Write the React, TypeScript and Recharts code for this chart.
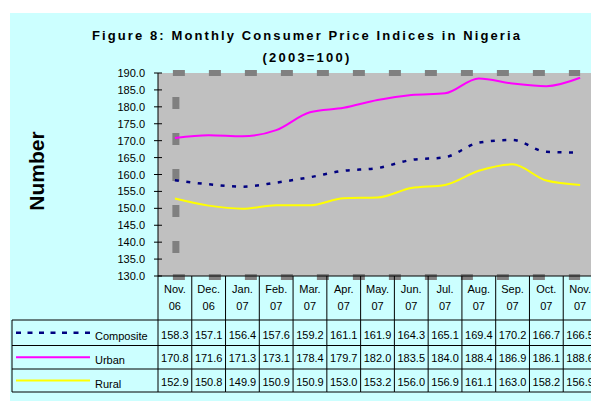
import React from "react";
import { LineChart, Line, XAxis, YAxis, CartesianGrid, ReferenceArea } from "recharts";

const months = [
  "Nov. 06", "Dec. 06", "Jan. 07", "Feb. 07", "Mar. 07", "Apr. 07", "May. 07",
  "Jun. 07", "Jul. 07", "Aug. 07", "Sep. 07", "Oct. 07", "Nov. 07",
];
const composite = [158.3, 157.1, 156.4, 157.6, 159.2, 161.1, 161.9, 164.3, 165.1, 169.4, 170.2, 166.7, 166.5];
const urban = [170.8, 171.6, 171.3, 173.1, 178.4, 179.7, 182.0, 183.5, 184.0, 188.4, 186.9, 186.1, 188.6];
const rural = [152.9, 150.8, 149.9, 150.9, 150.9, 153.0, 153.2, 156.0, 156.9, 161.1, 163.0, 158.2, 156.9];
const yTicks = [130, 135, 140, 145, 150, 155, 160, 165, 170, 175, 180, 185, 190];

const series = [
  { key: "composite", name: "Composite", values: composite, color: "#000080", width: 2.5, dash: "4 7.5" },
  { key: "urban", name: "Urban", values: urban, color: "#FF00FF", width: 2, dash: undefined },
  { key: "rural", name: "Rural", values: rural, color: "#FFFF00", width: 2, dash: undefined },
];

const data = months.map((m, i) => ({
  month: m,
  composite: composite[i],
  urban: urban[i],
  rural: rural[i],
}));

const FONT = '"Liberation Sans", Arial, Helvetica, sans-serif';
const CHART_W = 600;
const CHART_H = 404;
const PLOT_LEFT = 158;
const PLOT_TOP = 73;
const PLOT_BOTTOM = 276;
const MARGIN_R = 3;
const STEP = (CHART_W - PLOT_LEFT - MARGIN_R) / months.length;
const ROW_Y = [320, 345.5, 369, 392];
const VALUE_BASE = [338.5, 362, 386];
const LEGEND_LEFT = 12;

function YTick(props: any) {
  const { y, payload } = props;
  return (
    <g>
      <line x1={PLOT_LEFT - 4} x2={PLOT_LEFT + 4} y1={y} y2={y} stroke="#000" strokeWidth={1} />
      <text x={145} y={y} dy={4} textAnchor="end" fontFamily={FONT} fontSize={11} fill="#000">
        {Number(payload.value).toFixed(1)}
      </text>
    </g>
  );
}

function TableTick(props: any) {
  const { x, payload } = props;
  const i: number = payload.index ?? props.index;
  const [mon, yr] = String(payload.value).split(" ");
  const l = x - STEP / 2;
  const r = x + STEP / 2;
  return (
    <g fontFamily={FONT} fontSize={11}>
      <text x={x} y={292.5} textAnchor="middle" fill="#000">{mon}</text>
      <text x={x} y={310} textAnchor="middle" fill="#000">{yr}</text>
      {series.map((s, k) => (
        <text key={s.key} x={x} y={VALUE_BASE[k]} textAnchor="middle" fill="#000">
          {s.values[i].toFixed(1)}
        </text>
      ))}
      <line x1={l} x2={l} y1={PLOT_BOTTOM} y2={ROW_Y[3]} stroke="#000" />
      {i === months.length - 1 && <line x1={r} x2={r} y1={PLOT_BOTTOM} y2={ROW_Y[3]} stroke="#000" />}
      {ROW_Y.map((ry) => (
        <line key={ry} x1={l} x2={r} y1={ry} y2={ry} stroke="#000" />
      ))}
      {i === 0 && (
        <g>
          <line x1={LEGEND_LEFT} x2={LEGEND_LEFT} y1={ROW_Y[0]} y2={ROW_Y[3]} stroke="#000" />
          {ROW_Y.map((ry) => (
            <line key={"lg" + ry} x1={LEGEND_LEFT} x2={l} y1={ry} y2={ry} stroke="#000" />
          ))}
          {series.map((s, k) => {
            const cy = (ROW_Y[k] + ROW_Y[k + 1]) / 2;
            return (
              <g key={"lk" + s.key}>
                <line x1={16} x2={90} y1={cy} y2={cy} stroke={s.color} strokeWidth={s.width} strokeDasharray={s.dash ? "5 6.5" : undefined} />
                <text x={95} y={VALUE_BASE[k] + 1.5} fill="#000">{s.name}</text>
              </g>
            );
          })}
        </g>
      )}
    </g>
  );
}

function PlotBorder(props: any) {
  const { x, y, width, height } = props;
  const dash = { stroke: "#808080", strokeWidth: 6, strokeDasharray: "12 24" };
  return (
    <g>
      <line x1={x - 2} x2={x + width} y1={y} y2={y} {...dash} />
      <line x1={x - 2} x2={x + width} y1={y + height + 1} y2={y + height + 1} {...dash} />
      <line x1={x + 1} x2={x + 1} y1={y} y2={y + height} {...dash} strokeWidth={7} strokeDashoffset={12} />
    </g>
  );
}

export default function App() {
  return (
    <div style={{ position: "absolute", left: 0, top: 0, width: 591, height: 404, overflow: "hidden", background: "#fff" }}>
      <div style={{ position: "absolute", left: 10, top: 13, width: 581, height: 388, background: "#CCFFFF" }} />
      <div style={{ position: "absolute", left: 0, top: 0 }}>
        <LineChart
          width={CHART_W}
          height={CHART_H}
          data={data}
          margin={{ top: PLOT_TOP, right: MARGIN_R, left: 0, bottom: 0 }}
        >
          <CartesianGrid fill="#C0C0C0" horizontal={false} vertical={false} />
          <ReferenceArea y1={130} y2={190} fill="none" shape={<PlotBorder />} />
          {series.map((s) => (
            <Line
              key={s.key}
              type="monotone"
              dataKey={s.key}
              name={s.name}
              stroke={s.color}
              strokeWidth={s.width}
              strokeDasharray={s.dash}
              dot={false}
              isAnimationActive={false}
            />
          ))}
          <XAxis
            dataKey="month"
            interval={0}
            height={CHART_H - PLOT_BOTTOM}
            tickLine={false}
            tickSize={0}
            axisLine={{ stroke: "#000" }}
            padding={{ left: STEP / 2, right: STEP / 2 }}
            tick={<TableTick />}
          />
          <YAxis
            width={PLOT_LEFT}
            domain={[130, 190]}
            ticks={yTicks}
            interval={0}
            tickLine={false}
            axisLine={{ stroke: "#000" }}
            tick={<YTick />}
          />
        </LineChart>
      </div>
      <svg width={591} height={404} style={{ position: "absolute", left: 0, top: 0, pointerEvents: "none" }}>
        <text x={307} y={39.5} textAnchor="middle" fontFamily={FONT} fontWeight="bold" fontSize={13} letterSpacing={2.1} fill="#000">
          Figure 8: Monthly Consumer Price Indices in Nigeria
        </text>
        <text x={307} y={61.5} textAnchor="middle" fontFamily={FONT} fontWeight="bold" fontSize={13} letterSpacing={2.2} fill="#000">
          (2003=100)
        </text>
        <text transform="translate(43.5,171) rotate(-90)" textAnchor="middle" fontFamily={FONT} fontWeight="bold" fontSize={21} fill="#000">
          Number
        </text>
      </svg>
    </div>
  );
}
